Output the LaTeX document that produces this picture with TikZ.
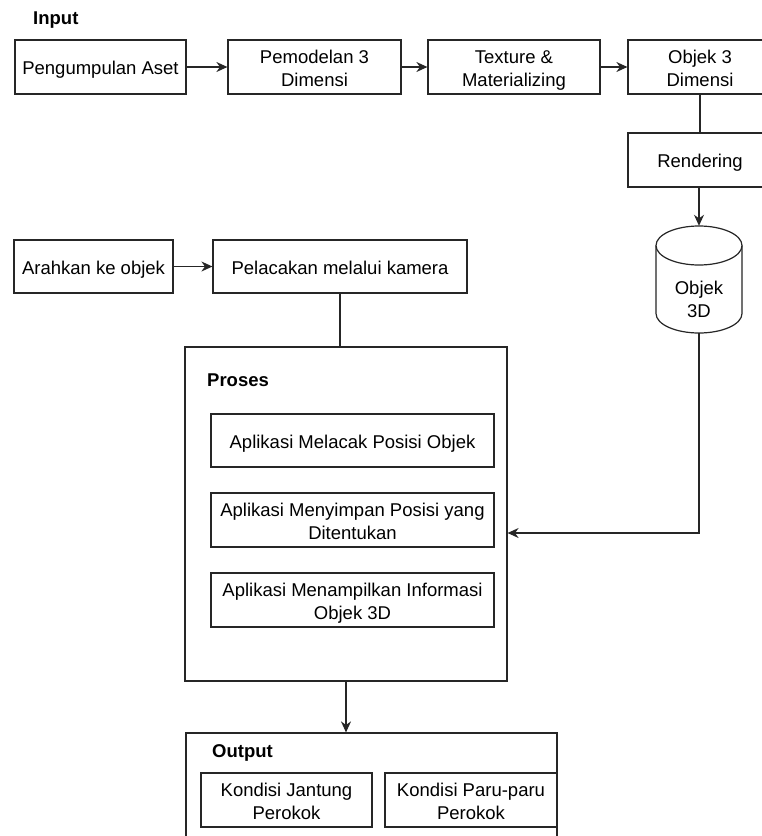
\documentclass[tikz,border=0pt]{standalone}
\usepackage{fontspec}
\setmainfont{Liberation Sans}
\usetikzlibrary{arrows.meta}
\newcommand\mytwo[2]{\rule{0pt}{19pt}#1\\#2\vphantom{g}}
\newcommand\myone[1]{\rule{0pt}{19pt}#1\vphantom{g}}
\tikzset{
  box/.style={draw=black!85, line width=1.2pt, inner sep=0pt, align=center, minimum height=54pt, font=\fontsize{18.5}{23}\selectfont},
  lbl/.style={inner sep=0pt, anchor=west, font=\fontsize{18.5}{23}\selectfont\bfseries},
  con/.style={draw=black!85, line width=1.2pt},
  arr/.style={con, -{Stealth[length=11pt, width=10pt]}},
  plain/.style={inner sep=0pt, align=center, font=\fontsize{18.5}{23}\selectfont}
}
\begin{document}
\begin{tikzpicture}[x=1pt, y=-1pt]
\useasboundingbox (0,0) rectangle (762,836);
\clip (0,0) rectangle (762,836);
\fill[white] (0,0) rectangle (762,836);

% Input row
\node[lbl] (input) at (33,20) {Input};
\node[box, minimum width=171pt] (b1) at (100.5,67) {\myone{Pengumpulan Aset}};
\node[box, minimum width=173pt] (b2) at (314.5,67) {\mytwo{Pemodelan 3}{Dimensi}};
\node[box, minimum width=172pt] (b3) at (514,67) {\mytwo{Texture \&}{Materializing}};
\node[box, minimum width=144pt] (b4) at (700,67) {\mytwo{Objek 3}{Dimensi}};
\node[box, minimum width=144pt] (rend) at (700,160) {\myone{Rendering}};

% cylinder
\node[minimum width=86pt, minimum height=107pt, inner sep=0pt] (cyl) at (699,279.5) {};
\draw[con, fill=white] (656,245.5) -- (656,313.5) arc[start angle=180, end angle=0, x radius=43, y radius=19.5] -- (742,245.5);
\draw[con] (699,245.5) ellipse [x radius=43, y radius=19.5];
\node[plain] (cyllabel) at (699,299) {Objek\\3D};

% tracking row
\node[box, minimum width=159pt, minimum height=53pt] (arah) at (93.5,266.5) {\myone{Arahkan ke objek}};
\node[box, minimum width=254pt, minimum height=53pt] (pel) at (340,266.5) {\myone{Pelacakan melalui kamera}};

% process
\node[box, minimum width=322pt, minimum height=334pt] (proses) at (346,514) {};
\node[lbl] (proseslbl) at (207,380) {Proses};
\node[box, minimum width=283pt, minimum height=53pt] (p1) at (352.5,440.5) {\myone{Aplikasi Melacak Posisi Objek}};
\node[box, minimum width=283pt, minimum height=54pt] (p2) at (352.5,520) {\mytwo{Aplikasi Menyimpan Posisi yang}{Ditentukan}};
\node[box, minimum width=283pt, minimum height=54pt] (p3) at (352.5,600) {\mytwo{Aplikasi Menampilkan Informasi}{Objek 3D}};

% output
\node[box, minimum width=371pt, minimum height=140pt] (output) at (371.5,803) {};
\node[lbl] (outputlbl) at (212,753) {Output};
\node[box, minimum width=171pt] (k1) at (286.5,800) {\mytwo{Kondisi Jantung}{Perokok}};
\node[box, minimum width=172pt] (k2) at (471,800) {\mytwo{Kondisi Paru-paru}{Perokok}};

% connectors
\coordinate (bend) at (699,533);
\draw[arr] (b1) -- (b2);
\draw[arr] (b2) -- (b3);
\draw[arr] (b3) -- (b4);
\draw[con] (b4.south) -- (rend.north);
\draw[arr] (rend.south -| cyl.north) -- (cyl.north);
\draw[arr] (arah) -- (pel);
\draw[con] (pel.south) -- (pel.south |- proses.north);
\draw[arr] (cyl.south) -- (bend) -- (bend -| proses.east);
\draw[arr] (proses.south) -- (proses.south |- output.north);
\end{tikzpicture}
\end{document}
